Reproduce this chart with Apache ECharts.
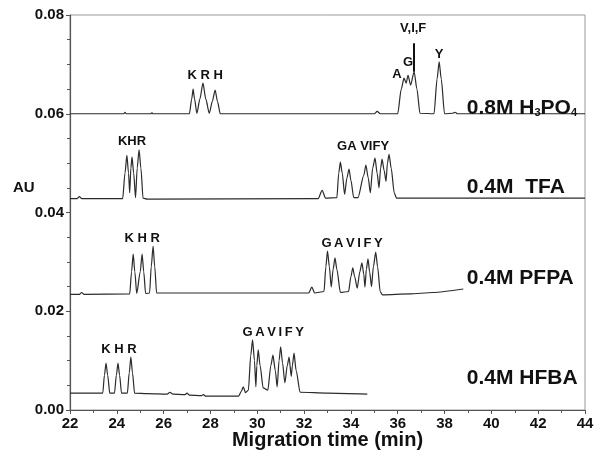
<!DOCTYPE html>
<html>
<head>
<meta charset="utf-8">
<script src="https://cdn.jsdelivr.net/npm/echarts@6/dist/echarts.min.js"></script>
<style>
  html, body { margin: 0; padding: 0; background: #fff; }
  #chart { width: 602px; height: 459px; }
</style>
</head>
<body>
<div id="chart"></div>
<script>
// electropherograms, [time (min), AU]
var h3po4 = [[22, 0.0600], [24.3, 0.0600], [24.35, 0.0603], [24.4, 0.0600], [25.45, 0.0600], [25.5, 0.0602], [25.55, 0.0600],
    [27.1, 0.0600], [27.2, 0.0630], [27.26, 0.0650], [27.32, 0.0630], [27.42, 0.0601], [27.55, 0.0630], [27.68, 0.0662], [27.8, 0.0630],
    [27.95, 0.0601], [28.08, 0.0625], [28.2, 0.0648], [28.3, 0.0625], [28.42, 0.0600],
    [35.0, 0.0600], [35.12, 0.0605], [35.25, 0.0600],
    [36.0, 0.0600], [36.15, 0.0650], [36.27, 0.0672], [36.36, 0.0662], [36.44, 0.0678], [36.55, 0.0658], [36.7, 0.0685], [36.82, 0.0650], [36.95, 0.0601],
    [37.55, 0.0600], [37.68, 0.0670], [37.77, 0.0705], [37.86, 0.0670], [38.0, 0.0600], [38.35, 0.0601], [38.45, 0.0603], [38.55, 0.0600], [44, 0.0600]];

var tfa = [[22, 0.0428], [22.3, 0.0428], [22.4, 0.0432], [22.5, 0.0428], [24.25, 0.0428], [24.35, 0.0480], [24.43, 0.0516], [24.5, 0.0480],
    [24.55, 0.0440], [24.6, 0.0490], [24.65, 0.0512], [24.72, 0.0480], [24.8, 0.0430], [24.87, 0.0490], [24.95, 0.0527], [25.03, 0.0490],
    [25.12, 0.0429], [25.3, 0.0427], [32.6, 0.0428], [32.77, 0.0445], [32.92, 0.0429], [33.4, 0.0430], [33.48, 0.0480], [33.55, 0.0502],
    [33.63, 0.0480], [33.73, 0.0437], [33.83, 0.0470], [33.92, 0.0488], [34.0, 0.0465], [34.12, 0.0430], [34.3, 0.0430], [34.55, 0.0475],
    [34.64, 0.0496], [34.74, 0.0470], [34.83, 0.0440], [34.93, 0.0490], [35.03, 0.0510], [35.12, 0.0480], [35.2, 0.0450], [35.27, 0.0490],
    [35.33, 0.0508], [35.42, 0.0485], [35.5, 0.0463], [35.56, 0.0500], [35.63, 0.0518], [35.72, 0.0490], [35.85, 0.0440], [35.95, 0.0429], [44, 0.0429]];

var pfpa = [[22, 0.0234], [22.4, 0.0234], [22.5, 0.0238], [22.6, 0.0234], [24.55, 0.0235], [24.63, 0.0280], [24.7, 0.0316], [24.77, 0.0280],
    [24.85, 0.0236], [25.0, 0.0280], [25.08, 0.0316], [25.15, 0.0280], [25.23, 0.0236], [25.4, 0.0237], [25.47, 0.0290], [25.55, 0.0332],
    [25.62, 0.0290], [25.7, 0.0237], [32.2, 0.0237], [32.33, 0.0249], [32.45, 0.0237], [32.85, 0.0240], [32.93, 0.0290], [33.0, 0.0322],
    [33.08, 0.0290], [33.16, 0.0249], [33.24, 0.0285], [33.32, 0.0308], [33.4, 0.0285], [33.55, 0.0238], [33.9, 0.0240], [34.0, 0.0270],
    [34.08, 0.0288], [34.16, 0.0270], [34.27, 0.0247], [34.38, 0.0280], [34.47, 0.0298], [34.55, 0.0275], [34.6, 0.0249], [34.66, 0.0285],
    [34.73, 0.0306], [34.8, 0.0280], [34.88, 0.0250], [34.96, 0.0290], [35.06, 0.0320], [35.14, 0.0290], [35.25, 0.0240], [35.35, 0.0233],
    [36.5, 0.0235], [37.5, 0.0238], [38.8, 0.0245]];

var hfba = [[22, 0.0034], [23.4, 0.0034], [23.47, 0.0070], [23.54, 0.0095], [23.61, 0.0070], [23.7, 0.0034], [23.9, 0.0034], [23.98, 0.0070],
    [24.05, 0.0095], [24.12, 0.0070], [24.2, 0.0034], [24.45, 0.0034], [24.53, 0.0075], [24.6, 0.0107], [24.67, 0.0075], [24.76, 0.0034],
    [25.3, 0.0033], [26.15, 0.0032], [26.27, 0.0036], [26.4, 0.0032], [26.9, 0.0031], [27.0, 0.0034], [27.1, 0.0030], [27.6, 0.0029],
    [27.7, 0.0031], [27.8, 0.0028], [29.2, 0.0028], [29.32, 0.0038], [29.4, 0.0047], [29.5, 0.0035], [29.62, 0.0040], [29.72, 0.0110],
    [29.8, 0.0142], [29.88, 0.0100], [29.94, 0.0047], [29.98, 0.0090], [30.04, 0.0122], [30.12, 0.0090], [30.25, 0.0045], [30.45, 0.0040],
    [30.58, 0.0090], [30.67, 0.0111], [30.77, 0.0080], [30.85, 0.0047], [30.93, 0.0100], [31.0, 0.0128], [31.08, 0.0095], [31.18, 0.0055],
    [31.28, 0.0090], [31.36, 0.0107], [31.45, 0.0068], [31.5, 0.0090], [31.57, 0.0115], [31.66, 0.0080], [31.83, 0.0036], [33, 0.0034], [34.7, 0.0032]];

// peak labels (time, AU, text)
var peakTimes = [27.77, 35.97, 36.44, 36.66, 37.77, 24.65, 34.52, 25.08, 34.05, 24.09, 30.68];
var peakValues = [0.0678, 0.0680, 0.0703, 0.0772, 0.0721, 0.0543, 0.0533, 0.0348, 0.0338, 0.0123, 0.0158];
var peakTexts = ['K R H', 'A', 'G', 'V,I,F', 'Y', 'KHR', 'GA VIFY', 'K H R', 'G\u2009A\u2009V\u2009I\u2009F\u2009Y', 'K H R', 'G\u2009A\u2009V\u2009I\u2009F\u2009Y'];

// trace names
var traceTimes = [38.95, 38.95, 38.95, 38.95];
var traceValues = [0.0612, 0.0452, 0.0267, 0.0065];
var traceTexts = ['0.8M H{s|3}PO{s|4}', '0.4M  TFA', '0.4M PFPA', '0.4M HFBA'];

var font = 'Liberation Sans, Arial, sans-serif';
var traceColor = '#2b2b2b';
var textColor = '#111';

function pairs(xs, ys, ts) {
    var out = [];
    for (var i = 0; i < xs.length; i++) {
        out.push({ value: [xs[i], ys[i]], name: ts[i] });
    }
    return out;
}

function trace(name, data, extra) {
    var s = {
        name: name,
        type: 'line',
        data: data,
        showSymbol: false,
        symbol: 'none',
        smooth: 0.25,
        smoothMonotone: 'x',
        silent: true,
        lineStyle: { color: traceColor, width: 1.2 }
    };
    if (extra) s.markLine = extra;
    return s;
}

var myChart = echarts.init(document.getElementById('chart'), null, { renderer: 'canvas' });
var option = {
    animation: false,
    grid: {
        left: 70, right: 17, top: 15, bottom: 49,
        outerBoundsMode: 'none',
        containLabel: false,
        show: true, borderColor: '#999', borderWidth: 1
    },
    xAxis: {
        type: 'value',
        min: 22, max: 44, interval: 2,
        name: 'Migration time (min)',
        nameLocation: 'middle',
        nameGap: 20,
        nameMoveOverlap: false,
        nameTextStyle: { fontFamily: font, fontWeight: 'bold', fontSize: 20, color: textColor },
        axisLine: { lineStyle: { color: '#555', width: 1.2 } },
        axisTick: { length: 4, lineStyle: { color: '#555' } },
        minorTick: { show: true, splitNumber: 2, length: 3, lineStyle: { color: '#555' } },
        axisLabel: { fontFamily: font, fontWeight: 'bold', fontSize: 15, color: textColor, margin: 6 },
        splitLine: { show: false }
    },
    yAxis: {
        type: 'value',
        min: 0, max: 0.08, interval: 0.02,
        axisLine: { show: true, lineStyle: { color: '#555', width: 1.2 } },
        axisTick: { show: true, length: 4, lineStyle: { color: '#555' } },
        minorTick: { show: true, splitNumber: 4, length: 3, lineStyle: { color: '#555' } },
        axisLabel: {
            fontFamily: font, fontWeight: 'bold', fontSize: 15, color: textColor, margin: 6,
            formatter: function (v) { return v.toFixed(2); }
        },
        splitLine: { show: false }
    },
    graphic: [{
        type: 'text', left: 13, top: 180,
        style: { text: 'AU', font: 'bold 15px ' + font, fill: textColor }
    }],
    series: [
        trace('0.8M H3PO4', h3po4, {
            silent: true, symbol: 'none', label: { show: false },
            lineStyle: { color: '#111', width: 2, type: 'solid' },
            data: [[{ coord: [36.7, 0.0685] }, { coord: [36.7, 0.0743] }]]
        }),
        trace('0.4M TFA', tfa),
        trace('0.4M PFPA', pfpa),
        trace('0.4M HFBA', hfba),
        {
            name: 'peaks',
            type: 'scatter',
            symbolSize: 0,
            silent: true,
            z: 5,
            itemStyle: { opacity: 1 },
            data: pairs(peakTimes, peakValues, peakTexts),
            label: {
                show: true, position: 'inside',
                formatter: function (p) { return p.name; },
                fontFamily: font, fontWeight: 'bold', fontSize: 13, color: textColor,
                textBorderWidth: 0
            }
        },
        {
            name: 'traces',
            type: 'scatter',
            symbolSize: 0,
            silent: true,
            z: 5,
            itemStyle: { opacity: 1 },
            data: pairs(traceTimes, traceValues, traceTexts),
            label: {
                show: true, position: 'right', distance: 0,
                formatter: function (p) { return p.name; },
                fontFamily: font, fontWeight: 'bold', fontSize: 21, color: textColor,
                textBorderWidth: 0,
                rich: {
                    s: { fontFamily: font, fontWeight: 'bold', fontSize: 11, color: textColor, verticalAlign: 'bottom' }
                }
            }
        }
    ]
};
myChart.setOption(option);
</script>
</body>
</html>
